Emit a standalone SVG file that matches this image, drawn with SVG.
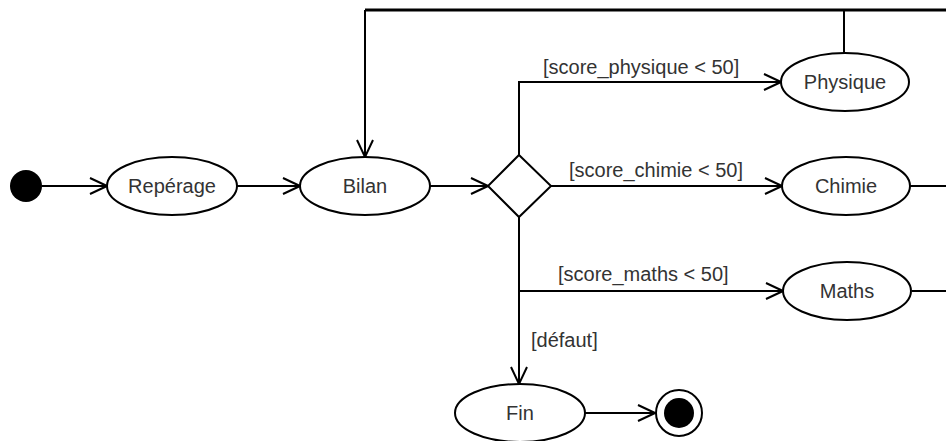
<svg xmlns="http://www.w3.org/2000/svg" width="946" height="441" viewBox="0 0 946 441">
<defs>
<style>
.node{fill:#fff;stroke:#000;stroke-width:2}
.lbl{font-family:"Liberation Sans",Arial,sans-serif;font-size:20px;fill:#333}
.ctr{text-anchor:middle}
.edge{fill:none;stroke:#000;stroke-width:2}
</style>
<marker id="arr" viewBox="0 0 20 20" refX="19" refY="10" markerWidth="20" markerHeight="20" markerUnits="userSpaceOnUse" orient="auto">
<path d="M2,2 L19,10 L2,18" fill="none" stroke="#000" stroke-width="2"/>
</marker>
</defs>
<rect width="946" height="441" fill="#fff"/>
<g id="connectors">
<path class="edge" d="M42,186 H107" marker-end="url(#arr)"/>
<path class="edge" d="M237,186 H300" marker-end="url(#arr)"/>
<path class="edge" d="M430,186 H488" marker-end="url(#arr)"/>
<path class="edge" d="M519,155 V82 H781" marker-end="url(#arr)"/>
<path class="edge" d="M551,186 H782" marker-end="url(#arr)"/>
<path class="edge" d="M519,217 V291 H783" marker-end="url(#arr)"/>
<path class="edge" d="M519,217 V384" marker-end="url(#arr)"/>
<path class="edge" d="M585,413 H655" marker-end="url(#arr)"/>
<path class="edge" d="M910,186 H950 V10"/>
<path class="edge" d="M912,291 H950 V10"/>
<path class="edge" d="M844,53 V10"/>
<path class="edge" style="stroke-width:3" d="M950,10 H365"/>
<path class="edge" d="M365,10 V157" marker-end="url(#arr)"/>
<text class="lbl" x="543" y="74">[score_physique &lt; 50]</text>
<text class="lbl" x="569" y="177">[score_chimie &lt; 50]</text>
<text class="lbl" x="558" y="281">[score_maths &lt; 50]</text>
<text class="lbl" x="531" y="347">[défaut]</text>
</g>
<g id="start"><circle cx="26" cy="186" r="16" fill="#000"/></g>
<g id="reperage"><ellipse class="node" cx="172" cy="186" rx="65" ry="29"/><text class="lbl ctr" x="172" y="193">Repérage</text></g>
<g id="bilan"><ellipse class="node" cx="365" cy="186" rx="65" ry="29"/><text class="lbl ctr" x="365" y="193">Bilan</text></g>
<g id="decision"><polygon class="node" points="519,155 551,186 519,217 488,186"/></g>
<g id="physique"><ellipse class="node" cx="845" cy="82" rx="64" ry="29"/><text class="lbl ctr" x="845" y="89">Physique</text></g>
<g id="chimie"><ellipse class="node" cx="846" cy="186" rx="64" ry="29"/><text class="lbl ctr" x="846" y="193">Chimie</text></g>
<g id="maths"><ellipse class="node" cx="847" cy="291" rx="64" ry="29"/><text class="lbl ctr" x="847" y="298">Maths</text></g>
<g id="fin"><ellipse class="node" cx="520" cy="413" rx="65" ry="29"/><text class="lbl ctr" x="520" y="420">Fin</text></g>
<g id="end"><circle cx="679" cy="413" r="23" fill="#fff" stroke="#000" stroke-width="2"/><circle cx="679" cy="413" r="15" fill="#000"/></g>
</svg>
